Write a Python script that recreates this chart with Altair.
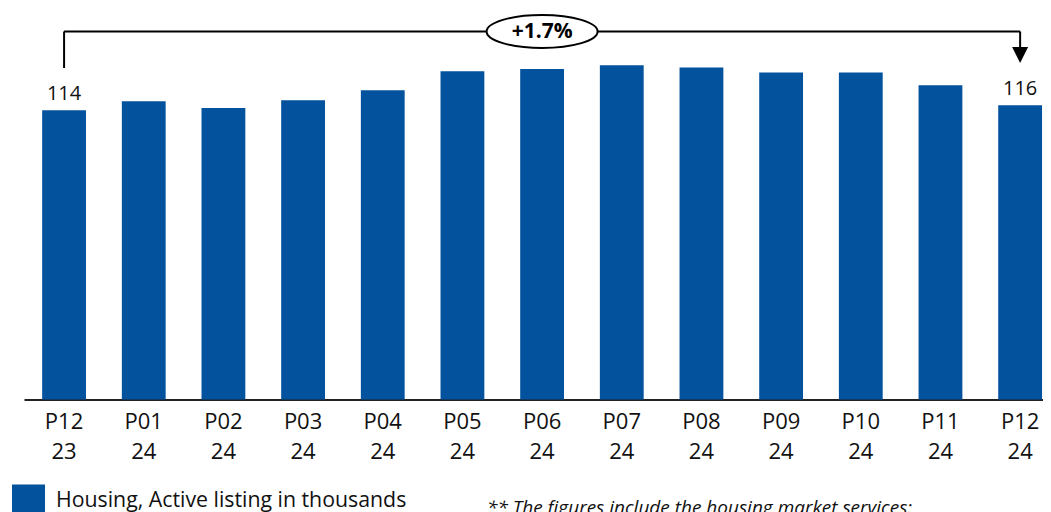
import altair as alt
import pandas as pd

# ---- data ----
categories = ["P12 23", "P01 24", "P02 24", "P03 24", "P04 24", "P05 24", "P06 24",
              "P07 24", "P08 24", "P09 24", "P10 24", "P11 24", "P12 24"]
values = [114.0, 117.5, 114.9, 117.9, 121.9, 129.3, 130.2, 131.7, 130.8, 128.8, 128.8, 123.8, 115.9]
value_labels = ["114", "", "", "", "", "", "", "", "", "", "", "", "116"]
series_name = "Housing, Active listing in thousands"
change_label = "+1.7%"
footnote = "** The figures include the housing market services:"

# bracket annotation (in data units of the value axis)
bracket_level = [145.0]
left_leg = [130.6, 145.0]
right_leg = [138.5, 145.0]
arrow_y = [135.7]

BLUE = "#03529E"
FONT = "Open Sans"

df = pd.DataFrame({"cat": categories, "value": values, "label": value_labels, "series": series_name})

x_scale = alt.Scale(domain=categories, paddingInner=0.45, paddingOuter=0.12, align=0.95)
y_scale = alt.Scale(domain=[0, 145], nice=False, zero=True)


def X(field="cat"):
    return alt.X(f"{field}:N", scale=x_scale, sort=categories, title=None)


def Y(field="value", **kw):
    return alt.Y(f"{field}:Q", scale=y_scale, axis=None, title=None, **kw)


bars = alt.Chart(df).mark_bar(color=BLUE).encode(
    x=X(),
    y=Y(),
    color=alt.Color("series:N", scale=alt.Scale(range=[BLUE]),
                    legend=alt.Legend(title=None, orient="none", legendX=-12, legendY=453,
                                      symbolType="square", symbolSize=1089, symbolStrokeWidth=0,
                                      labelFont=FONT, labelFontSize=21.3, labelColor="#111",
                                      labelOffset=11, padding=0, labelLimit=1000)),
)

labels = alt.Chart(df).mark_text(dy=-16, fontSize=20, font=FONT, color="#111").encode(
    x=X(), y=Y(), text="label:N"
)

h_df = pd.DataFrame({"cat": [categories[0]], "cat2": [categories[-1]], "y": bracket_level})
h_rule = alt.Chart(h_df).mark_rule(color="#000", strokeWidth=2).encode(
    x=X(), x2="cat2:N", y=Y("y")
)

legs_df = pd.DataFrame({
    "cat": [categories[0], categories[-1]],
    "y1": [left_leg[0], right_leg[0]],
    "y2": [left_leg[1], right_leg[1]],
})
legs = alt.Chart(legs_df).mark_rule(color="#000", strokeWidth=2).encode(
    x=X(), y=Y("y1"), y2="y2:Q"
)

arrow_df = pd.DataFrame({"cat": [categories[-1]], "y": arrow_y})
arrow = alt.Chart(arrow_df).mark_point(
    shape="M -1 -1 L 1 -1 L 0 1 Z", size=256, filled=True, fill="#000", stroke="#000",
    strokeWidth=0, opacity=1
).encode(x=X(), y=Y("y"))

k = 0.5523
b = 0.297
kb = round(k * b, 4)
ellipse_path = (f"M -1 0 C -1 {-kb} {-k} {-b} 0 {-b} C {k} {-b} 1 {-kb} 1 0 "
                f"C 1 {kb} {k} {b} 0 {b} C {-k} {b} -1 {kb} -1 0 Z")
ell_df = pd.DataFrame({"cat": ["P06 24"], "y": bracket_level, "t": [change_label]})
ellipse = alt.Chart(ell_df).mark_point(
    shape=ellipse_path, size=111 * 111, filled=True, fill="white", stroke="#000",
    strokeWidth=2, opacity=1
).encode(x=X(), y=Y("y"))
ell_text = alt.Chart(ell_df).mark_text(fontSize=21, fontWeight="bold", font=FONT, color="#000").encode(
    x=X(), y=Y("y"), text="t:N"
)

foot_df = pd.DataFrame({"t": [footnote]})
foot = alt.Chart(foot_df).mark_text(
    align="left", baseline="alphabetic", fontSize=19, fontStyle="italic", font=FONT, color="#111"
).encode(x=alt.value(463), y=alt.value(482), text="t:N")

chart = alt.layer(bars, labels, h_rule, legs, arrow, ellipse, ell_text, foot).properties(
    width=1019, height=368,
    autosize=alt.AutoSizeParams(type="none"),
    padding={"left": 16, "top": 23.5, "right": 0, "bottom": 112.5},
).configure_view(strokeWidth=0).configure_axisX(
    labelExpr="split(datum.label, ' ')", labelFont=FONT, labelFontSize=22, labelColor="#111",
    labelLineHeight=30, labelPadding=12, ticks=False, domainColor="#222", domainWidth=2,
    labelAngle=0, grid=False
)

chart.save("out.html", embed_options={"renderer": "svg", "actions": False})
